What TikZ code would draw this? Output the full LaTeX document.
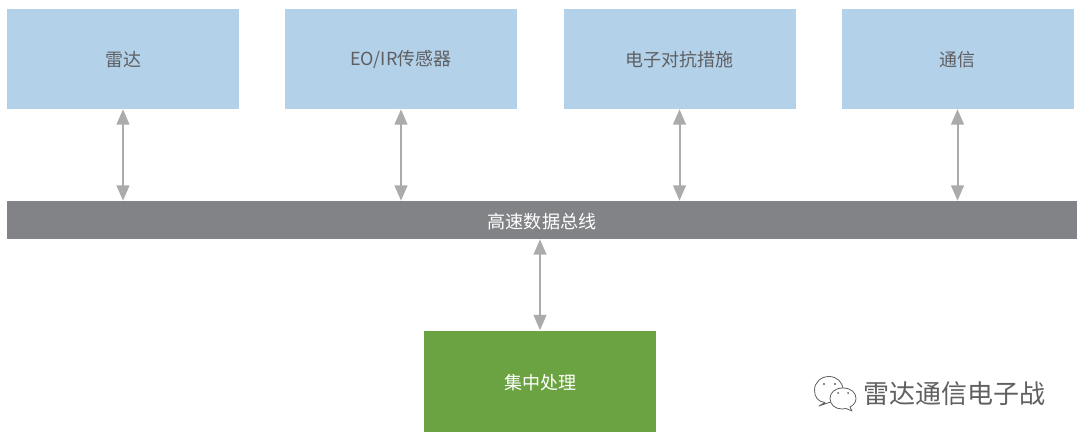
\documentclass[tikz,border=0pt]{standalone}
\usepackage{fontspec}
\setmainfont{Noto Sans CJK SC}
\usetikzlibrary{arrows.meta}
\definecolor{boxblue}{HTML}{B3D1E9}
\definecolor{busgray}{HTML}{828386}
\definecolor{procgreen}{HTML}{6BA342}
\definecolor{linkgray}{HTML}{ABABAD}
\definecolor{labelgray}{HTML}{5F5F62}
\definecolor{markgray}{HTML}{606060}
% lowers a label slightly inside its box, keeping its measured size
\newcommand{\boxlabel}[2][0.75pt]{\raisebox{-#1}[\height][\depth]{#2}}
\tikzset{
  x=0.75pt,y=-0.75pt,
  unit/.style={fill=boxblue,minimum width=174pt,minimum height=75pt,inner sep=0pt,text=labelgray,font=\fontsize{13.5pt}{16pt}\selectfont},
  bus/.style={fill=busgray,minimum width=802.5pt,minimum height=28.5pt,inner sep=0pt,text=white,font=\fontsize{13.6pt}{16pt}\selectfont},
  proc/.style={fill=procgreen,minimum width=174pt,minimum height=75.75pt,inner sep=0pt,text=white,font=\fontsize{13.5pt}{16pt}\selectfont},
  link/.style={draw=linkgray,line width=1.5pt,{Triangle[length=11.5pt,width=9.5pt]}-{Triangle[length=11.5pt,width=9.5pt]}},
  accountmark/.style={text=markgray,font=\fontsize{19.5pt}{23pt}\selectfont,inner sep=0pt},
  bubble/.style={draw=markgray,line width=0.6pt,fill=white,line join=round},
  eye/.style={fill=markgray}
}
\begin{document}
\begin{tikzpicture}
\useasboundingbox (0,0) rectangle (1080,442);
\fill[white] (0,0) rectangle (1080,442);
\node[unit] (radar) at (123,59) {\boxlabel{雷达}};
\node[unit] (eoir) at (401,59) {\boxlabel{EO/IR传感器}};
\node[unit] (ecm) at (679.5,59) {\boxlabel{电子对抗措施}};
\node[unit] (comm) at (957.5,59) {\boxlabel{通信}};
\node[bus] (databus) at (542,220) {\boxlabel[1pt]{高速数据总线}};
\node[proc] (central) at (540,381) {\boxlabel[1.4pt]{集中处理}};
\draw[link] (radar.south) -- (radar.south |- databus.north);
\draw[link] (eoir.south) -- (eoir.south |- databus.north);
\draw[link] (ecm.south) -- (ecm.south |- databus.north);
\draw[link] (comm.south) -- (comm.south |- databus.north);
\draw[link] (central.north) -- (central.north |- databus.south);
% account mark: two overlapping speech bubbles with tails
\draw[bubble] (825,402.5) .. controls (818,402) and (814.5,397) .. (814.5,390)
  .. controls (814.5,382.5) and (821,376.5) .. (829,376.5)
  .. controls (837,376.5) and (843,382.5) .. (843,390)
  .. controls (843,397) and (836,402.5) .. (829,402.5) -- (819,406) -- cycle;
\draw[bubble] (842,409) .. controls (835,409) and (830,404.5) .. (830,398.5)
  .. controls (830,392.5) and (835,388) .. (843,388)
  .. controls (851,388) and (856,392.5) .. (856,398.5)
  .. controls (856,402.5) and (853,405.5) .. (850,407) -- (852,411) -- (846,408.5) -- cycle;
\fill[eye] (824,384) circle (1.2);
\fill[eye] (835,384) circle (1.2);
\fill[eye] (838,393) circle (1);
\fill[eye] (848,393) circle (1);
\node[accountmark,anchor=west] (account) at (863,394) {雷达通信电子战};
\end{tikzpicture}
\end{document}
